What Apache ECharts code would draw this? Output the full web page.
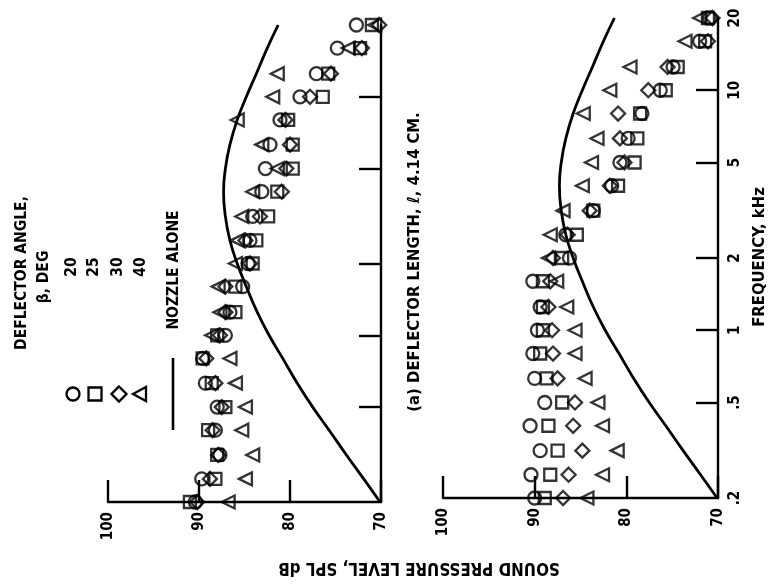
<!DOCTYPE html>
<html><head><meta charset="utf-8">
<script src="https://cdn.jsdelivr.net/npm/echarts@6/dist/echarts.min.js"></script>
<style>html,body{margin:0;padding:0;background:#fff}#c{width:770px;height:586px}</style>
</head><body><div id="c"></div>
<script>
// one-third-octave band centre frequencies, kHz
const freqs = [0.2,0.25,0.315,0.4,0.5,0.63,0.8,1,1.25,1.6,2,2.5,3.15,4,5,6.3,8,10,12.5,16,20];
const freqTickValues = [0.2,0.5,1,2,5,10,20];
const freqTickLabels = ['.2','.5','1','2','5','10','20'];
const splTickValues = [70,80,90,100];
const legendAngles = ['20','25','30','40'];

// nozzle alone (solid curve), SPL dB
const nozzleAlone = [70.1,71.9,73.8,75.7,77.5,79.2,80.8,82.3,83.6,84.8,85.8,86.6,87.1,87.3,87.1,86.6,85.8,84.8,83.7,82.5,81.3];

// upper panel (left in picture)
const leftB20 = [90.4,89.7,87.7,88.2,88.0,89.3,89.6,87.1,86.6,85.2,84.6,84.4,84.1,83.1,82.7,82.2,81.1,78.9,77.1,74.8,72.7];
const leftB25 = [91.0,88.2,88.0,89.0,87.1,88.6,89.6,88.0,86.0,86.0,84.1,83.7,82.4,81.4,79.7,79.7,80.2,76.4,75.8,72.3,71.0];
const leftB30 = [90.2,88.8,87.9,88.5,87.5,88.2,89.2,87.7,87.1,87.1,84.4,84.9,83.3,80.9,80.4,80.0,80.5,77.8,75.5,72.1,70.2];
const leftB40 = [86.8,84.9,84.1,85.3,84.9,86.0,86.6,88.6,87.7,87.9,86.0,85.8,85.3,84.1,81.4,83.1,85.8,81.9,81.4,73.6,70.7];

// lower panel (right in picture)
const rightB20 = [90.0,90.4,89.4,90.5,88.9,90.0,90.2,89.7,89.4,90.2,86.2,86.6,83.6,81.6,80.7,79.8,78.3,76.3,74.9,72.0,70.9];
const rightB25 = [88.9,88.3,87.5,88.5,87.0,88.7,89.4,89.1,89.1,89.1,87.0,85.4,83.6,80.9,79.1,78.8,78.5,75.7,74.4,71.4,71.1];
const rightB30 = [86.9,86.3,84.8,85.8,85.6,87.5,88.0,88.1,88.5,88.3,88.0,86.4,84.0,81.8,80.2,80.7,80.9,77.6,75.5,71.1,70.6];
const rightB40 = [84.3,82.6,81.0,82.6,83.1,84.5,85.6,85.6,86.5,87.6,88.5,88.3,86.9,84.8,83.8,83.2,84.7,81.8,79.6,73.6,72.0];

const FF = '"DejaVu Sans Condensed", "DejaVu Sans", sans-serif';
const pairs = vals => vals.map((v, i) => [v, freqs[i]]);

function xAx(gi) {
  return {
    gridIndex: gi, type: 'value', min: 70, max: 100, interval: 10, inverse: true,
    position: 'bottom',
    axisLine: { show: true, onZero: false, lineStyle: { color: '#000', width: 2.4 } },
    axisTick: { show: true, inside: true, length: 22, lineStyle: { color: '#000', width: 2.4 },
      customValues: splTickValues },
    axisLabel: { show: true, rotate: 90, margin: 10, color: '#000', fontSize: 15, fontWeight: 'bold',
      fontFamily: FF, customValues: splTickValues },
    splitLine: { show: false }
  };
}
function yAx(gi, labels) {
  return {
    gridIndex: gi, type: 'log', logBase: 10, min: 0.2, max: 20, position: 'right',
    axisLine: { show: true, onZero: false, lineStyle: { color: '#000', width: 2.4 } },
    axisTick: { show: true, inside: true, length: 22, lineStyle: { color: '#000', width: 2.4 },
      customValues: [0.5, 1, 2, 5, 10] },
    axisLabel: { show: labels, rotate: 90, margin: 10, color: '#000', fontSize: 15, fontWeight: 'bold',
      fontFamily: FF, customValues: freqTickValues,
      formatter: v => { const k = freqTickValues.findIndex(t => Math.abs(t - v) < 1e-6); return k >= 0 ? freqTickLabels[k] : ''; } },
    splitLine: { show: false }
  };
}
const mk = { color: 'rgba(0,0,0,0)', borderColor: '#000', borderWidth: 2.3 };
function sc(gi, vals, symbol, size, rot) {
  return { type: 'scatter', xAxisIndex: gi, yAxisIndex: gi, data: pairs(vals), symbol: symbol,
    symbolSize: size, symbolRotate: rot || 0, itemStyle: mk, clip: false, silent: true };
}
function curve(gi) {
  return { type: 'line', xAxisIndex: gi, yAxisIndex: gi, data: pairs(nozzleAlone), smooth: 0.5,
    symbol: 'none', lineStyle: { color: '#000', width: 2.8 }, silent: true };
}

const txt = (text, x, y, rot, size) => ({ type: 'text', x: x, y: y, rotation: rot,
  style: { text: text, fill: '#000', font: 'bold ' + (size || 15) + 'px ' + FF, align: 'center', verticalAlign: 'middle' } });

const legendX = [73, 95, 119, 140];
const graphic = [
  txt('DEFLECTOR ANGLE,', 22, 273, Math.PI / 2, 15.5),
  txt('\u03B2, DEG', 44, 277, Math.PI / 2, 15.5),
  txt(legendAngles[0], 72, 267, Math.PI / 2, 15.5),
  txt(legendAngles[1], 94, 267, Math.PI / 2, 15.5),
  txt(legendAngles[2], 118, 267, Math.PI / 2, 15.5),
  txt(legendAngles[3], 141, 267, Math.PI / 2, 15.5),
  txt('NOZZLE ALONE', 174, 270, Math.PI / 2, 15.5),
  txt('(a) DEFLECTOR LENGTH, \u2113, 4.14 CM.', 415, 262, Math.PI / 2, 16.5),
  txt('FREQUENCY, kHz', 760, 257, Math.PI / 2, 16.5),
  txt('SOUND PRESSURE LEVEL, SPL dB', 419, 567, Math.PI, 16.8),
  { type: 'circle', shape: { cx: legendX[0], cy: 394, r: 6.5 }, style: { fill: 'none', stroke: '#000', lineWidth: 2.3 } },
  { type: 'rect', shape: { x: legendX[1] - 6.5, y: 387.5, width: 13, height: 13 }, style: { fill: 'none', stroke: '#000', lineWidth: 2.3 } },
  { type: 'polygon', shape: { points: [[legendX[2], 386.5], [legendX[2] + 7.5, 394], [legendX[2], 401.5], [legendX[2] - 7.5, 394]] }, style: { fill: 'none', stroke: '#000', lineWidth: 2.3 } },
  { type: 'polygon', shape: { points: [[legendX[3] - 7, 394], [legendX[3] + 6, 387], [legendX[3] + 6, 401]] }, style: { fill: 'none', stroke: '#000', lineWidth: 2.3 } },
  { type: 'line', shape: { x1: 173, y1: 358, x2: 173, y2: 430 }, style: { stroke: '#000', lineWidth: 2.6 } }
];

const chart = echarts.init(document.getElementById('c'), null, { renderer: 'canvas' });
chart.setOption({
  animation: false,
  backgroundColor: '#fff',
  grid: [
    { left: 108, top: 25, width: 273, height: 477 },
    { left: 443, top: 18, width: 275, height: 480 }
  ],
  xAxis: [xAx(0), xAx(1)],
  yAxis: [yAx(0, false), yAx(1, true)],
  series: [
    curve(0),
    sc(0, leftB20, 'circle', 13), sc(0, leftB25, 'rect', 12), sc(0, leftB30, 'diamond', 14), sc(0, leftB40, 'triangle', 13, 90),
    curve(1),
    sc(1, rightB20, 'circle', 13), sc(1, rightB25, 'rect', 12), sc(1, rightB30, 'diamond', 14), sc(1, rightB40, 'triangle', 13, 90)
  ],
  graphic: graphic
});
</script></body></html>
